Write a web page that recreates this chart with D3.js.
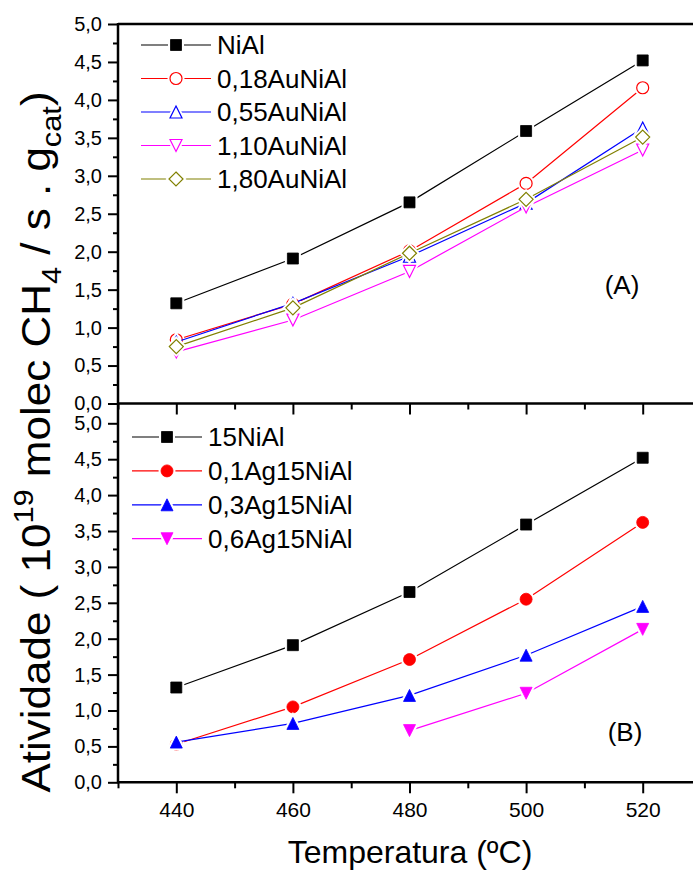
<!DOCTYPE html>
<html>
<head>
<meta charset="utf-8">
<script src="https://cdn.jsdelivr.net/npm/d3@7/dist/d3.min.js"></script>
<style>
  html, body { margin: 0; padding: 0; background: #fff; }
  svg { display: block; font-family: "Liberation Sans", Arial, sans-serif; }
</style>
</head>
<body>
<svg id="chart" width="693" height="871"></svg>
<script>
// Reaction temperatures (ºC)
const temps = [440, 460, 480, 500, 520];

// Panel A: Au-promoted catalysts
const namesA = ["NiAl", "0,18AuNiAl", "0,55AuNiAl", "1,10AuNiAl", "1,80AuNiAl"];
const NiAl    = [1.32, 1.91, 2.65, 3.59, 4.52];
const Au018   = [0.84, 1.31, 2.01, 2.90, 4.16];
const Au055   = [0.81, 1.32, 1.94, 2.64, 3.63];
const Au110   = [0.68, 1.10, 1.74, 2.59, 3.34];
const Au180   = [0.75, 1.26, 1.98, 2.69, 3.51];

// Panel B: Ag-promoted catalysts
const namesB = ["15NiAl", "0,1Ag15NiAl", "0,3Ag15NiAl", "0,6Ag15NiAl"];
const Ni15    = [1.32, 1.91, 2.65, 3.59, 4.52];
const Ag01    = [0.53, 1.05, 1.71, 2.55, 3.62];
const Ag03    = [0.56, 0.82, 1.21, 1.77, 2.45];
const Ag06    = [null, null, 0.72, 1.24, 2.13];

// Axis ticks
const yMajor = [0, 0.5, 1, 1.5, 2, 2.5, 3, 3.5, 4, 4.5, 5];
const yMinor = [0.25, 0.75, 1.25, 1.75, 2.25, 2.75, 3.25, 3.75, 4.25, 4.75];
const xMajor = [440, 460, 480, 500, 520];
const xMinor = [430, 450, 470, 490, 510, 530];

const FONT = "'Liberation Sans', Arial, sans-serif";
const fmt = v => d3.format(".1f")(v).replace(".", ",");

const svg = d3.select("#chart");

const x = d3.scaleLinear().domain([430, 530]).range([118, 701]);
const yA = d3.scaleLinear().domain([0, 5]).range([403.5, 24]);
const yB = d3.scaleLinear().domain([0, 5]).range([782.3, 423.3]);

// symbol path generators, centred on the bounding box
const sym = {
  square: s => `M${-s/2},${-s/2}h${s}v${s}h${-s}Z`,
  circle: s => { const r = s/2; return `M${r},0A${r},${r} 0 1,1 ${-r},0A${r},${r} 0 1,1 ${r},0Z`; },
  up:     s => `M0,${-s/2}L${s/2},${s/2}L${-s/2},${s/2}Z`,
  down:   s => `M0,${s/2}L${s/2},${-s/2}L${-s/2},${-s/2}Z`,
  diamond:s => `M0,${-s/2}L${s/2},0L0,${s/2}L${-s/2},0Z`
};

const seriesA = [
  { name: namesA[0], values: NiAl,  color: "#000000", shape: "square",  filled: true,  size: 11 },
  { name: namesA[1], values: Au018, color: "#ff0000", shape: "circle",  filled: false, size: 12 },
  { name: namesA[2], values: Au055, color: "#0000ff", shape: "up",      filled: false, size: 12 },
  { name: namesA[3], values: Au110, color: "#ff00ff", shape: "down",    filled: false, size: 12 },
  { name: namesA[4], values: Au180, color: "#808000", shape: "diamond", filled: false, size: 14 }
];
const seriesB = [
  { name: namesB[0], values: Ni15, color: "#000000", shape: "square", filled: true, size: 11 },
  { name: namesB[1], values: Ag01, color: "#ff0000", shape: "circle", filled: true, size: 12 },
  { name: namesB[2], values: Ag03, color: "#0000ff", shape: "up",     filled: true, size: 12 },
  { name: namesB[3], values: Ag06, color: "#ff00ff", shape: "down",   filled: true, size: 12 }
];

// white halo under each marker leaves a small gap where the line meets it
function drawHalo(g, s, cx, cy) {
  g.append("path")
    .attr("transform", `translate(${cx},${cy})`)
    .attr("d", sym[s.shape](s.size))
    .attr("fill", "#fff").attr("stroke", "#fff").attr("stroke-width", 5);
}
function drawMarker(g, s, cx, cy) {
  g.append("path")
    .attr("transform", `translate(${cx},${cy})`)
    .attr("d", sym[s.shape](s.size))
    .attr("fill", s.filled ? s.color : "#fff")
    .attr("stroke", s.color)
    .attr("stroke-width", s.filled ? 0.8 : 1.2);
}

function drawSeries(series, y) {
  const g = svg.append("g");
  series.forEach(s => {
    const pts = temps.map((t, i) => [t, s.values[i]]).filter(p => p[1] != null);
    const line = d3.line().x(p => x(p[0])).y(p => y(p[1]));
    g.append("path").attr("d", line(pts))
      .attr("fill", "none").attr("stroke", s.color).attr("stroke-width", 1.2);
    pts.forEach(p => drawHalo(g, s, x(p[0]), y(p[1])));
    pts.forEach(p => drawMarker(g, s, x(p[0]), y(p[1])));
  });
}

function drawYAxis(y) {
  const g = svg.append("g").attr("transform", "translate(118,0)");
  g.call(d3.axisLeft(y).tickValues(yMajor).tickSize(10).tickPadding(6).tickFormat(fmt));
  g.attr("font-family", FONT);
  g.select(".domain").remove();
  g.selectAll(".tick line").attr("stroke", "#000").attr("stroke-width", 2);
  g.selectAll(".tick text").attr("font-size", 20).attr("fill", "#000");
  const m = svg.append("g").attr("transform", "translate(118,0)");
  m.call(d3.axisLeft(y).tickValues(yMinor).tickSize(5).tickFormat(""));
  m.select(".domain").remove();
  m.selectAll(".tick line").attr("stroke", "#000").attr("stroke-width", 2);
}

function drawXAxis(yPos, labelled) {
  const g = svg.append("g").attr("transform", `translate(0,${yPos})`);
  g.call(d3.axisBottom(x).tickValues(xMajor).tickSize(11).tickPadding(9)
    .tickFormat(labelled ? d3.format("d") : ""));
  g.attr("font-family", FONT);
  g.select(".domain").remove();
  g.selectAll(".tick line").attr("stroke", "#000").attr("stroke-width", 2);
  g.selectAll(".tick text").attr("font-size", 21).attr("fill", "#000");
  const m = svg.append("g").attr("transform", `translate(0,${yPos})`);
  m.call(d3.axisBottom(x).tickValues(xMinor).tickSize(6).tickFormat(""));
  m.select(".domain").remove();
  m.selectAll(".tick line").attr("stroke", "#000").attr("stroke-width", 2);
}

function drawLegend(series, x0, y0, dy) {
  const g = svg.append("g");
  series.forEach((s, i) => {
    const cy = y0 + i * dy;
    g.append("line").attr("x1", x0).attr("x2", x0 + 70).attr("y1", cy).attr("y2", cy)
      .attr("stroke", s.color).attr("stroke-width", 1.2);
    drawHalo(g, s, x0 + 35, cy);
    drawMarker(g, s, x0 + 35, cy);
    g.append("text").attr("x", x0 + 76).attr("y", cy).attr("dy", "0.36em")
      .attr("font-size", 26).attr("fill", "#000").text(s.name);
  });
}

// data
drawSeries(seriesA, yA);
drawSeries(seriesB, yB);

// axes
drawYAxis(yA);
drawYAxis(yB);
drawXAxis(yA(0), false);
drawXAxis(yB(0), true);

// frame lines
svg.append("line").attr("x1", 118).attr("x2", 693).attr("y1", yA(5)).attr("y2", yA(5))
  .attr("stroke", "#000").attr("stroke-width", 2.5);
svg.append("line").attr("x1", 118).attr("x2", 693).attr("y1", yA(0)).attr("y2", yA(0))
  .attr("stroke", "#000").attr("stroke-width", 2.5);
svg.append("line").attr("x1", 118).attr("x2", 693).attr("y1", yB(0)).attr("y2", yB(0))
  .attr("stroke", "#000").attr("stroke-width", 2.5);
svg.append("line").attr("x1", 118).attr("x2", 118).attr("y1", yA(5) - 1).attr("y2", yB(0) + 1)
  .attr("stroke", "#000").attr("stroke-width", 2.5);

// legends
drawLegend(seriesA, 141, 45, 33.5);
drawLegend(seriesB, 132, 437, 33.9);

// panel tags
svg.append("text").attr("x", 622).attr("y", 285).attr("dy", "0.36em").attr("text-anchor", "middle")
  .attr("font-size", 26).text("(A)");
svg.append("text").attr("x", 625).attr("y", 732).attr("dy", "0.36em").attr("text-anchor", "middle")
  .attr("font-size", 26).text("(B)");

// axis titles
svg.append("text").attr("x", 410).attr("y", 863).attr("text-anchor", "middle")
  .attr("font-size", 32).text("Temperatura (ºC)");

// y title, slightly elongated along its reading direction
const yt = svg.append("text").attr("transform", "translate(50,442) rotate(-90) scale(1.1,1)")
  .attr("text-anchor", "middle").attr("font-size", 40);
yt.append("tspan").text("Atividade ( 10");
yt.append("tspan").attr("font-size", 28).attr("dy", -17).text("19");
yt.append("tspan").attr("dy", 17).text(" molec CH");
yt.append("tspan").attr("font-size", 28).attr("dy", 11).text("4");
yt.append("tspan").attr("dy", -11).text(" / s . g");
yt.append("tspan").attr("font-size", 28).attr("dy", 11).text("cat");
yt.append("tspan").attr("dy", -11).text(")");
</script>
</body>
</html>
